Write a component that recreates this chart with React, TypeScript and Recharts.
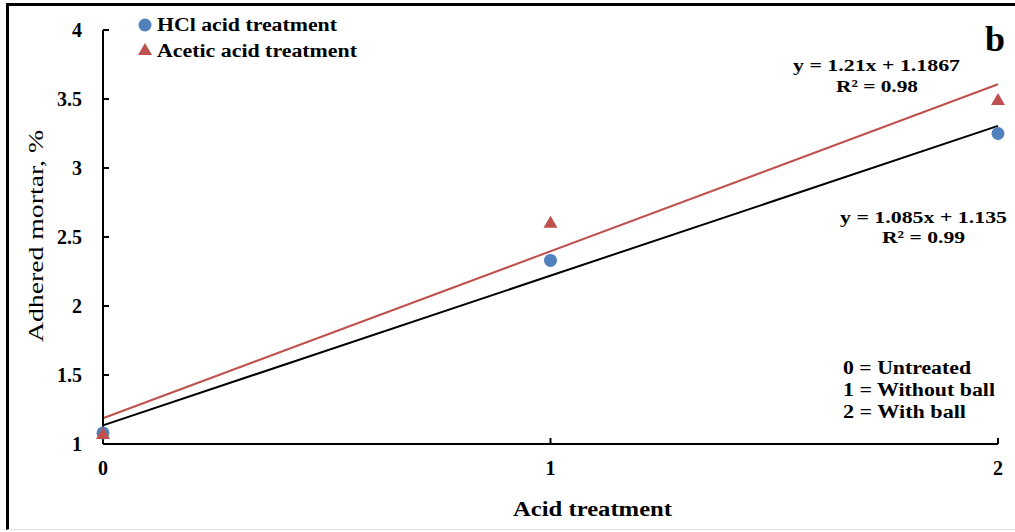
import { ComposedChart, Scatter, Line, XAxis, YAxis } from "recharts";

// treatment index on the x axis
const treatments = [0, 1, 2];
const hclMortar = [1.08, 2.33, 3.25];
const aceticMortar = [1.08, 2.61, 3.5];

const yTicks = [1, 1.5, 2, 2.5, 3, 3.5, 4];

// linear trend lines (Excel style)
const HCL_SLOPE = 1.085;
const HCL_INTERCEPT = 1.135;
const ACETIC_SLOPE = 1.21;
const ACETIC_INTERCEPT = 1.1867;

const notes = ["0 = Untreated", "1 = Without ball", "2 = With ball"];

const BLUE = "#4F81BD";
const RED = "#C0504D";
const SERIF = "'Liberation Serif', 'Times New Roman', serif";

const hclPoints = treatments.map((x, i) => ({ x, y: hclMortar[i] }));
const aceticPoints = treatments.map((x, i) => ({ x, y: aceticMortar[i] }));
const trendX = [treatments[0], treatments[treatments.length - 1]];
const hclFit = trendX.map((x) => ({ x, y: HCL_SLOPE * x + HCL_INTERCEPT }));
const aceticFit = trendX.map((x) => ({ x, y: ACETIC_SLOPE * x + ACETIC_INTERCEPT }));

const tickStyle = { fontFamily: SERIF, fontWeight: "bold" as const, fontSize: 20, fill: "#000" };

const Dot = (props: { cx?: number; cy?: number }) => {
  const { cx = 0, cy = 0 } = props;
  return <circle cx={cx} cy={cy} r={6.5} fill={BLUE} />;
};

const Tri = (props: { cx?: number; cy?: number }) => {
  const { cx = 0, cy = 0 } = props;
  return <polygon points={`${cx},${cy - 6} ${cx - 7},${cy + 6} ${cx + 7},${cy + 6}`} fill={RED} />;
};

export default function App() {
  return (
    <div style={{ position: "absolute", left: 0, top: 0, width: 1015, height: 532, background: "#fff" }}>
      <div
        style={{
          position: "absolute",
          left: 6,
          top: 3,
          width: 1015,
          height: 527,
          borderTop: "3px solid #000",
          borderLeft: "3px solid #000",
          borderBottom: "1px solid #e4e4e4",
          boxSizing: "border-box",
        }}
      />
      <ComposedChart
        width={1015}
        height={532}
        margin={{ top: 30, right: 17, bottom: 0, left: 0 }}
        style={{ position: "absolute", left: 0, top: 0 }}
      >
        <XAxis
          type="number"
          dataKey="x"
          domain={[0, 2]}
          ticks={treatments}
          height={88}
          axisLine={{ stroke: "#000", strokeWidth: 2 }}
          tickLine={{ stroke: "#000", strokeWidth: 2 }}
          tickSize={-6}
          tickMargin={23}
          tick={tickStyle}
        />
        <YAxis
          type="number"
          domain={[1, 4]}
          ticks={yTicks}
          width={103}
          axisLine={{ stroke: "#000", strokeWidth: 2 }}
          tickLine={{ stroke: "#000", strokeWidth: 2 }}
          tickSize={-6}
          tickMargin={27}
          tick={tickStyle}
        />
        <Scatter data={hclPoints} dataKey="y" shape={<Dot />} isAnimationActive={false} />
        <Scatter data={aceticPoints} dataKey="y" shape={<Tri />} isAnimationActive={false} />
        <Line data={hclFit} dataKey="y" stroke="#000" strokeWidth={2} dot={false} isAnimationActive={false} />
        <Line data={aceticFit} dataKey="y" stroke={RED} strokeWidth={2} dot={false} isAnimationActive={false} />
      </ComposedChart>
      <svg
        width={1015}
        height={532}
        style={{ position: "absolute", left: 0, top: 0, pointerEvents: "none" }}
        fontFamily={SERIF}
        fill="#000"
      >
        {/* legend */}
        <circle cx={145} cy={25} r={6.5} fill={BLUE} />
        <text x={157} y={31} fontSize={18} fontWeight="bold" textLength={180} lengthAdjust="spacingAndGlyphs">
          HCl acid treatment
        </text>
        <polygon points="145,43 138,55 152,55" fill={RED} />
        <text x={157} y={57} fontSize={18} fontWeight="bold" textLength={200} lengthAdjust="spacingAndGlyphs">
          Acetic acid treatment
        </text>

        <text x={985} y={51} fontSize={36} fontWeight="bold">
          b
        </text>

        {/* trend equations */}
        <text x={793} y={71} fontSize={17} fontWeight="bold" textLength={167} lengthAdjust="spacingAndGlyphs">
          {`y = ${ACETIC_SLOPE}x + ${ACETIC_INTERCEPT}`}
        </text>
        <text x={836} y={92} fontSize={17} fontWeight="bold" textLength={82} lengthAdjust="spacingAndGlyphs">
          R² = 0.98
        </text>
        <text x={840} y={223} fontSize={17} fontWeight="bold" textLength={167} lengthAdjust="spacingAndGlyphs">
          {`y = ${HCL_SLOPE}x + ${HCL_INTERCEPT}`}
        </text>
        <text x={882} y={243} fontSize={17} fontWeight="bold" textLength={83} lengthAdjust="spacingAndGlyphs">
          R² = 0.99
        </text>

        {/* treatment key */}
        {notes.map((n, i) => (
          <text
            key={n}
            x={843}
            y={374 + i * 22}
            fontSize={18}
            fontWeight="bold"
            textLength={[128, 152, 123][i]}
            lengthAdjust="spacingAndGlyphs"
          >
            {n}
          </text>
        ))}

        {/* axis titles */}
        <text x={513} y={516} fontSize={20} fontWeight="bold" textLength={159} lengthAdjust="spacingAndGlyphs">
          Acid treatment
        </text>
        <text
          x={0}
          y={0}
          fontSize={22}
          textAnchor="middle"
          transform="translate(43 236) rotate(-90)"
          textLength={212}
          lengthAdjust="spacingAndGlyphs"
        >
          Adhered mortar, %
        </text>
      </svg>
    </div>
  );
}
